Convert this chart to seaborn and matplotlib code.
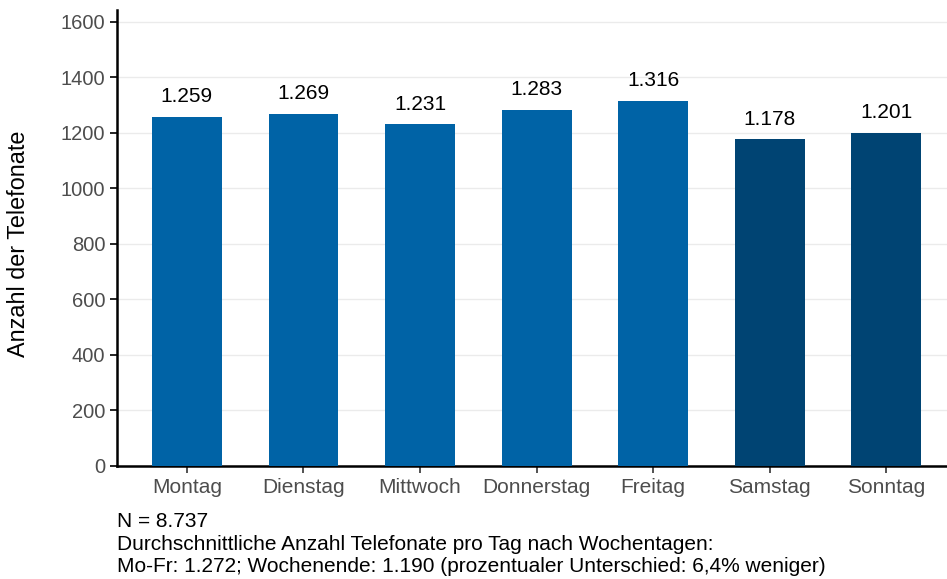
import numpy as np
import pandas as pd
import seaborn as sns
import matplotlib.pyplot as plt

tage = ["Montag", "Dienstag", "Mittwoch", "Donnerstag", "Freitag", "Samstag", "Sonntag"]
anzahl = [1259, 1269, 1231, 1283, 1316, 1178, 1201]
gruppe = ["Werktag"] * 5 + ["Wochenende"] * 2
labels = ["1.259", "1.269", "1.231", "1.283", "1.316", "1.178", "1.201"]
caption = ("N = 8.737\n"
           "Durchschnittliche Anzahl Telefonate pro Tag nach Wochentagen:\n"
           "Mo-Fr: 1.272; Wochenende: 1.190 (prozentualer Unterschied: 6,4% weniger)")

df = pd.DataFrame({"tag": tage, "anzahl": anzahl, "gruppe": gruppe})

sns.set_theme(style="white")
plt.rcParams["font.family"] = ["Liberation Sans", "DejaVu Sans"]

fig = plt.figure(figsize=(9.47, 5.79), dpi=100)
ax = fig.add_axes([0.1235, 0.1952, 0.8765, 0.7875])

sns.barplot(data=df, x="tag", y="anzahl", hue="gruppe",
            palette={"Werktag": "#0063a6", "Wochenende": "#004473"},
            saturation=1, linewidth=0, width=0.6, dodge=False, legend=False,
            ax=ax, zorder=3)

for i, (v, lab) in enumerate(zip(anzahl, labels)):
    ax.text(i, v + 38, lab, ha="center", va="bottom", fontsize=15, color="black")

ax.set_ylim(0, 1643)
ax.set_xlim(-0.6, 6.52)
ax.set_yticks(range(0, 1601, 200))
ax.yaxis.grid(True, color="#ebebeb", linewidth=1, zorder=0)
ax.set_axisbelow(True)
ax.set_xlabel("")
ax.set_ylabel("Anzahl der Telefonate", fontsize=16.8, color="black")
ax.yaxis.set_label_coords(-0.105, 0.487)
ax.tick_params(axis="y", labelsize=14.5, labelcolor="#4d4d4d", length=5, width=1.2,
               color="black", left=True)
ax.tick_params(axis="x", labelsize=15, labelcolor="#4d4d4d", length=5, width=1.2,
               color="#333333", bottom=True)

sns.despine(ax=ax, top=True, right=True)
ax.spines["left"].set_color("black")
ax.spines["left"].set_linewidth(1.8)
ax.spines["bottom"].set_color("black")
ax.spines["bottom"].set_linewidth(1.8)

fig.text(117 / 947, 1 - 512 / 579, caption, ha="left", va="top",
         fontsize=15, color="black", linespacing=1.25)

fig.savefig("out.png", dpi=100)
